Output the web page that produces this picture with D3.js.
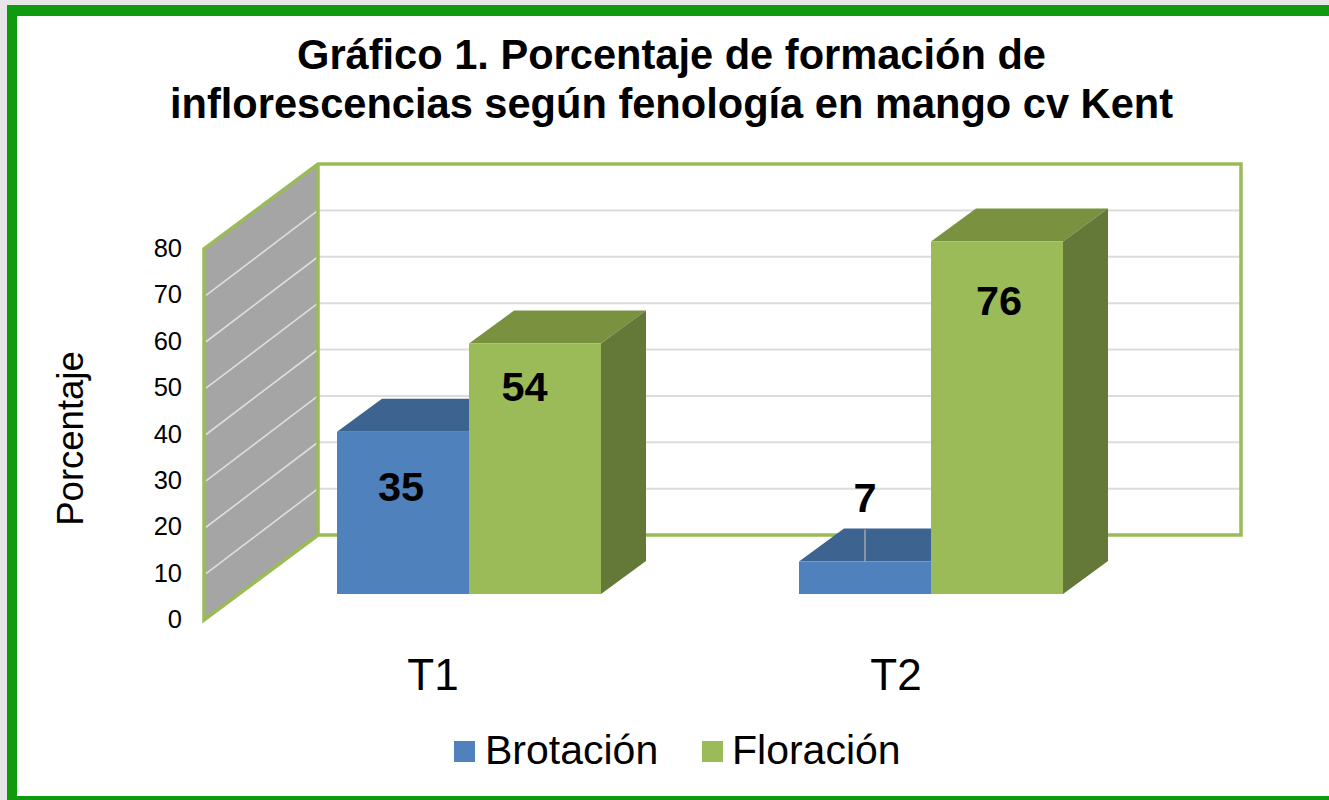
<!DOCTYPE html>
<html><head><meta charset="utf-8">
<script src="https://cdn.jsdelivr.net/npm/d3@7"></script>
<style>html,body{margin:0;padding:0;background:#e6e6e6;overflow:hidden}svg{display:block}text{font-family:"Liberation Sans",Arial,sans-serif;fill:#000}</style>
</head><body><svg id="c" width="1329" height="800"></svg>
<script>
const titleLines = ["Gráfico 1. Porcentaje de formación de","inflorescencias según fenología en mango cv Kent"];
const categories = ["T1","T2"];
const seriesNames = ["Brotación","Floración"];
const brotacion = [35,7];
const floracion = [54,76];
const yTicks = [0,10,20,30,40,50,60,70,80];
const yAxisTitle = "Porcentaje";

const svg = d3.select("#c");
const green="#9bbb59", blue="#4f81bd";
const shade={[blue]:{top:"#3d6390",side:"#3d6390"},[green]:{top:"#7a9140",side:"#647837"}};

// frame
svg.append("rect").attr("x",7).attr("y",5).attr("width",1322).attr("height",795).attr("fill","#0f9a10");
svg.append("rect").attr("x",17).attr("y",16).attr("width",1312).attr("height",780).attr("fill","#fff");

// 3D geometry
const frontY = 620, depthX = 115, depthY = -85, wallX = 204, wallR = 1241;
const y = d3.scaleLinear().domain([0,80]).range([frontY,249]);
const backX = wallX+depthX-1, d = v=>y(v)+depthY;

const g = svg.append("g");
// back wall gridlines
g.selectAll("line.back").data(yTicks.slice(1,-1)).join("line").attr("class","back")
  .attr("x1",backX).attr("x2",wallR).attr("y1",d).attr("y2",d).attr("stroke","#dcdcdc").attr("stroke-width",2);
// side wall
g.append("path").attr("d",`M${wallX},${y(0)}L${wallX},${y(80)}L${backX},${d(80)}L${backX},${d(0)}Z`).attr("fill","#a5a5a5");
g.selectAll("line.side").data(yTicks.slice(1,-1)).join("line").attr("class","side")
  .attr("x1",wallX+2).attr("x2",backX).attr("y1",y).attr("y2",d).attr("stroke","#dedede").attr("stroke-width",1.6);
// wall outline
g.append("path").attr("d",`M${backX},${d(0)}L${wallX},${y(0)}L${wallX},${y(80)}L${backX},${d(80)}L${wallR},${d(80)}L${wallR},${d(0)}L${backX},${d(0)}L${backX},${d(80)}`)
 .attr("fill","none").attr("stroke",green).attr("stroke-width",3.5).attr("stroke-linejoin","miter");

// bars
const barBase = 594, bdx = 45, bdy = -33;
const h = v=>frontY-y(v);
const x0 = d3.scaleBand().domain(categories).range([238,1162]);
const barW = 132;
const rows = [];
categories.forEach((c,i)=>{
  const cx = x0(c)+x0.bandwidth()/2;
  rows.push({s:0,c,v:brotacion[i],px:cx-barW,col:blue});
  rows.push({s:1,c,v:floracion[i],px:cx,col:green});
});
const bars = g.selectAll("g.bar").data(rows).join("g").attr("class","bar");
bars.append("path").attr("fill",r=>shade[r.col].top)
 .attr("d",r=>{const t=barBase-h(r.v);return `M${r.px},${t}l${bdx},${bdy}h${barW}l${-bdx},${-bdy}Z`});
bars.append("path").attr("fill",r=>shade[r.col].side)
 .attr("d",r=>{const t=barBase-h(r.v),X=r.px+barW;return `M${X},${t}l${bdx},${bdy}V${barBase+bdy}L${X},${barBase}Z`});
bars.append("rect").attr("fill",r=>r.col).attr("x",r=>r.px).attr("width",barW)
 .attr("y",r=>barBase-h(r.v)).attr("height",r=>h(r.v));

// leader line for small value
const small = rows.find(r=>r.c==="T2"&&r.s===0);
g.append("line").attr("x1",small.px+barW/2).attr("x2",small.px+barW/2)
 .attr("y1",barBase-h(small.v)-32).attr("y2",barBase-h(small.v)).attr("stroke","#a6a6a6").attr("stroke-width",1.5);

// data labels
const labelDx = [-2,-10.5,0,2], labelDy = [69,57,-50,73];
g.selectAll("text.val").data(rows).join("text").attr("class","val")
 .attr("x",(r,i)=>r.px+barW/2+labelDx[i])
 .attr("y",(r,i)=>barBase-h(r.v)+labelDy[i])
 .attr("text-anchor","middle").attr("font-size",41.5).attr("font-weight","bold").text(r=>r.v);

// y ticks
svg.selectAll("text.yt").data(yTicks).join("text").attr("class","yt")
 .attr("x",182).attr("y",v=>y(v)+8).attr("text-anchor","end").attr("font-size",25.5).text(v=>v);
// y title
svg.append("text").attr("transform","translate(83,438.5) rotate(-90)").attr("text-anchor","middle").attr("font-size",36.5).text(yAxisTitle);
// categories
const catDx = [-36,-35];
svg.selectAll("text.cat").data(categories).join("text").attr("class","cat")
 .attr("x",(c,i)=>x0(c)+x0.bandwidth()/2+catDx[i]).attr("y",690).attr("text-anchor","middle").attr("font-size",44).text(c=>c);
// title
svg.selectAll("text.title").data(titleLines).join("text").attr("class","title")
 .attr("x",671.5).attr("y",(t,i)=>69+i*48.5).attr("text-anchor","middle").attr("font-size",41.6).attr("font-weight","bold").text(t=>t);
// legend
const lx=[454,702];
const lg=svg.selectAll("g.leg").data(seriesNames).join("g").attr("class","leg").attr("transform",(n,i)=>`translate(${lx[i]},741)`);
lg.append("rect").attr("width",21).attr("height",21).attr("fill",(n,i)=>i?green:blue);
lg.append("text").attr("x",(n,i)=>i?30:31).attr("y",23).attr("font-size",41).text(n=>n);
</script></body></html>
